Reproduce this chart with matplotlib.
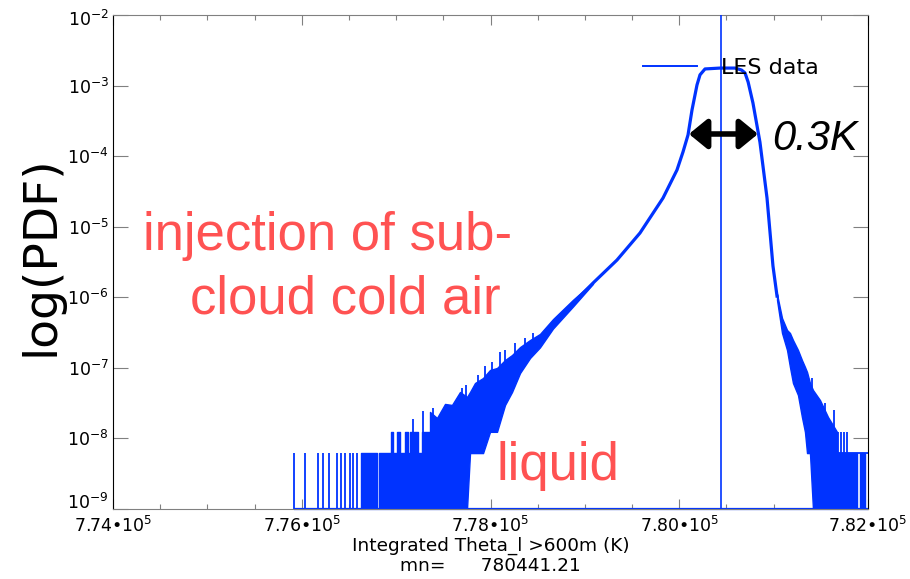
import matplotlib
matplotlib.use('Agg')
import matplotlib.pyplot as plt
import matplotlib.transforms as mtransforms
import numpy as np
from matplotlib.lines import Line2D
from matplotlib.ticker import MultipleLocator, NullLocator

plt.rcParams['font.family'] = ['DejaVu Sans']
plt.rcParams['mathtext.default'] = 'regular'

# ---------------- data ----------------
mean_theta = 780441.21

# smooth core of the PDF
core_x = [778524, 778662, 778874, 779086, 779340, 779584, 779828, 779976, 780040,
          780093, 780135, 780188, 780220, 780273, 780432, 780591, 780660, 780697,
          780730, 780781, 780855, 780930, 780993, 781036]
core_pdf = [2.48e-7, 4.33e-7, 8.3e-7, 1.59e-6, 3.37e-6, 8.15e-6, 2.55e-5, 6.37e-5, 1.15e-4,
            2.0e-4, 4.5e-4, 1.02e-3, 1.42e-3, 1.72e-3, 1.77e-3, 1.77e-3, 1.66e-3, 1.51e-3,
            1.12e-3, 5.66e-4, 1.58e-4, 2.55e-5, 2.78e-6, 1.04e-6]

# noisy band, cold (left) flank: upper / lower envelope (0 = empty bin)
left_band_x = [777359, 777433, 777518, 777592, 777677, 777751, 777783, 777836, 777921,
               777995, 778069, 778154, 778228, 778313, 778419, 778524, 778662, 778874,
               779086]
left_band_upper = [2.37e-8, 1.95e-8, 3.08e-8, 2.98e-8, 4.55e-8, 3.87e-8, 4.55e-8, 6.1e-8,
                   7.18e-8, 9.33e-8, 9.95e-8, 1.29e-7, 1.52e-7, 1.97e-7, 2.48e-7, 3.02e-7,
                   4.9e-7, 9.2e-7, 1.63e-6]
left_band_lower = [0, 0, 0, 0, 0, 0, 6.2e-9, 6.2e-9, 6.2e-9, 1.24e-8, 1.24e-8, 2.98e-8,
                   4.55e-8, 8.45e-8, 1.38e-7, 1.95e-7, 3.6e-7, 7.4e-7, 1.55e-6]

# spikes sticking out above the left band
left_band_spike_x = [777391, 777698, 777740, 777868, 777942, 778016, 778101, 778154,
                     778260, 778366, 778450]
left_band_spike_pdf = [2.70e-8, 5.18e-8, 5.71e-8, 7.92e-8, 1.06e-7, 1.21e-7, 1.68e-7,
                       1.79e-7, 2.25e-7, 2.65e-7, 3.12e-7]

# isolated single-count bins in the far cold tail
left_tail_x = [775915, 776038, 776169, 776228, 776286, 776370, 776416, 776455, 776511,
               776546, 776589]
left_tail_pdf = [6.2e-9] * 11

# runs of filled bins in the tails: start, end, level
tail_run_start = [776625, 776819, 776946, 777009, 777094, 777147, 777274,
                  781671, 781915]
tail_run_end = [776794, 777359, 776967, 777041, 777126, 777232, 777359,
                781883, 781968]
tail_run_pdf = [6.2e-9, 6.2e-9, 1.24e-8, 1.24e-8, 1.24e-8, 1.24e-8, 1.24e-8,
                6.2e-9, 6.2e-9]

# higher single spikes in the tails
tail_spike_x = [777182, 777288, 781682, 781714, 781745, 781777]
tail_spike_pdf = [1.86e-8, 2.48e-8, 1.24e-8, 1.24e-8, 1.24e-8, 1.24e-8]

# noisy band, warm (right) flank
right_band_x = [781036, 781089, 781142, 781173, 781205, 781258, 781300, 781332, 781354,
                781385, 781417, 781491, 781576, 781671]
right_band_upper = [1.11e-6, 5.08e-7, 3.44e-7, 3.12e-7, 2.48e-7, 1.79e-7, 1.29e-7, 1.03e-7,
                    8.73e-8, 6.1e-8, 4.85e-8, 3.5e-8, 2.01e-8, 1.24e-8]
right_band_lower = [9.14e-7, 3.12e-7, 1.79e-7, 1.03e-7, 6.1e-8, 4.12e-8, 2.01e-8, 1.24e-8,
                    6.2e-9, 6.2e-9, 0, 0, 0, 0]
right_band_spike_x = [781311, 781407, 781544, 781640]
right_band_spike_pdf = [1.21e-7, 7.18e-8, 3.18e-8, 2.53e-8]

tail_start, tail_end = 775915, 782000
right_single_start = 781354
single_count_pdf = 6.2e-9

# width annotation
arrow_x = [780103, 780834]
arrow_pdf = 2.06e-4

x_ticks = [774000, 776000, 778000, 780000, 782000]
x_tick_labels = ['7.74\u202210$^{5}$', '7.76\u202210$^{5}$', '7.78\u202210$^{5}$',
                 '7.80\u202210$^{5}$', '7.82\u202210$^{5}$']
y_ticks = [1e-9, 1e-8, 1e-7, 1e-6, 1e-5, 1e-4, 1e-3, 1e-2]
y_tick_labels = ['$10^{-9}$', '$10^{-8}$', '$10^{-7}$', '$10^{-6}$', '$10^{-5}$',
                 '$10^{-4}$', '$10^{-3}$', '$10^{-2}$']

# ---------------- plotting ----------------
BLUE = '#0033ff'
RED = '#ff5252'
GRAY = '#808080'
Y_FLOOR = 1e-9

def floor(a):
    return np.clip(np.asarray(a, dtype=float), Y_FLOOR, None)

W, H = 910, 579
fig = plt.figure(figsize=(W / 100, H / 100), dpi=100)
ax = fig.add_axes([113 / W, 70 / H, 755 / W, 494 / H])
ax.set_yscale('log')
ax.set_xlim(774000, 782000)
ax.set_ylim(Y_FLOOR, 1e-2)

# bands
ax.fill_between(left_band_x, floor(left_band_lower), floor(left_band_upper),
                color=BLUE, lw=1.0, zorder=2)
ax.fill_between(right_band_x, floor(right_band_lower), floor(right_band_upper),
                color=BLUE, lw=1.0, zorder=2)
ax.vlines(left_band_spike_x, np.interp(left_band_spike_x, left_band_x, floor(left_band_upper)) * 0.8,
          left_band_spike_pdf, color=BLUE, lw=1.3, zorder=2)
ax.vlines(right_band_spike_x, np.interp(right_band_spike_x, right_band_x, floor(right_band_upper)) * 0.8,
          right_band_spike_pdf, color=BLUE, lw=1.3, zorder=2)

# tails
ax.vlines(left_tail_x, Y_FLOOR, left_tail_pdf, color=BLUE, lw=1.3, zorder=2)
for x0, x1, lev in zip(tail_run_start, tail_run_end, tail_run_pdf):
    ax.fill_between([x0, x1], Y_FLOOR, lev, color=BLUE, lw=1.0, zorder=2)
ax.vlines(tail_spike_x, Y_FLOOR, tail_spike_pdf, color=BLUE, lw=1.3, zorder=2)
ax.hlines(single_count_pdf, right_single_start, tail_end, color=BLUE, lw=1.3, zorder=2)
ax.hlines(Y_FLOOR, tail_start, tail_end, color=BLUE, lw=1.6, zorder=2, clip_on=False)

# core
ax.plot(core_x, core_pdf, color=BLUE, lw=2.3, zorder=3, solid_joinstyle='round')

# mean line
ax.axvline(mean_theta, color=BLUE, lw=1.2, zorder=3)

# legend
handle = Line2D([], [], color=BLUE, lw=1.4)
ax.legend([handle], ['LES data'], loc='center left', bbox_to_anchor=(0.702, 0.893),
          frameon=False, fontsize=16, handlelength=2.45, handletextpad=1.05,
          borderpad=0, borderaxespad=0)

# arrow
ax.annotate('', xy=(arrow_x[0], arrow_pdf), xytext=(arrow_x[1], arrow_pdf),
            arrowprops=dict(arrowstyle='<|-|>,head_length=0.55,head_width=0.45',
                            lw=4, color='black', shrinkA=0, shrinkB=0,
                            mutation_scale=20), zorder=4)

# ticks
ax.set_xticks(x_ticks)
ax.set_xticklabels(x_tick_labels)
ax.xaxis.set_minor_locator(MultipleLocator(500))
ax.set_yticks(y_ticks)
ax.set_yticklabels(y_tick_labels)
ax.yaxis.set_minor_locator(NullLocator())
ax.tick_params(axis='x', which='major', direction='in', length=7, width=0.8,
               color=GRAY, top=True, labelsize=12.5, pad=5)
ax.tick_params(axis='x', which='minor', direction='in', length=3.5, width=0.8,
               color=GRAY, top=True)
ax.tick_params(axis='y', which='major', direction='in', length=11, width=0.8,
               color=GRAY, right=True, labelsize=12.5, pad=3)

# lowest / highest y labels sit slightly inside the axis range, as in the reference
ylabels = ax.get_yticklabels()
ylabels[0].set_transform(ylabels[0].get_transform() +
                         mtransforms.ScaledTranslation(0, 6 / 72, fig.dpi_scale_trans))
ylabels[-1].set_transform(ylabels[-1].get_transform() +
                          mtransforms.ScaledTranslation(0, -2 / 72, fig.dpi_scale_trans))

for s in ['left', 'right']:
    ax.spines[s].set_color('black')
    ax.spines[s].set_linewidth(0.8)
for s in ['top', 'bottom']:
    ax.spines[s].set_color(GRAY)
    ax.spines[s].set_linewidth(0.8)

ax.set_ylabel('log(PDF)', fontsize=34)
ax.yaxis.set_label_coords(-0.066, 0.512)
ax.set_xlabel(f'Integrated Theta_l >600m (K)\nmn=      {mean_theta:.2f}',
              fontsize=13.3, linespacing=1.1)
ax.xaxis.set_label_coords(0.5, -0.057)

def fpos(px, py):
    return px / W, 1 - py / H

fig.text(*fpos(143, 250), 'injection of sub-', fontsize=38, color=RED,
         family='Liberation Sans', va='baseline', ha='left')
fig.text(*fpos(190, 313), 'cloud cold air', fontsize=38, color=RED,
         family='Liberation Sans', va='baseline', ha='left')
fig.text(*fpos(497, 480), 'liquid', fontsize=38, color=RED,
         family='Liberation Sans', va='baseline', ha='left')
fig.text(*fpos(772, 150), '0.3K', fontsize=30, color='black', style='italic',
         family='Liberation Sans', va='baseline', ha='left')

fig.savefig('out.png', dpi=100)
